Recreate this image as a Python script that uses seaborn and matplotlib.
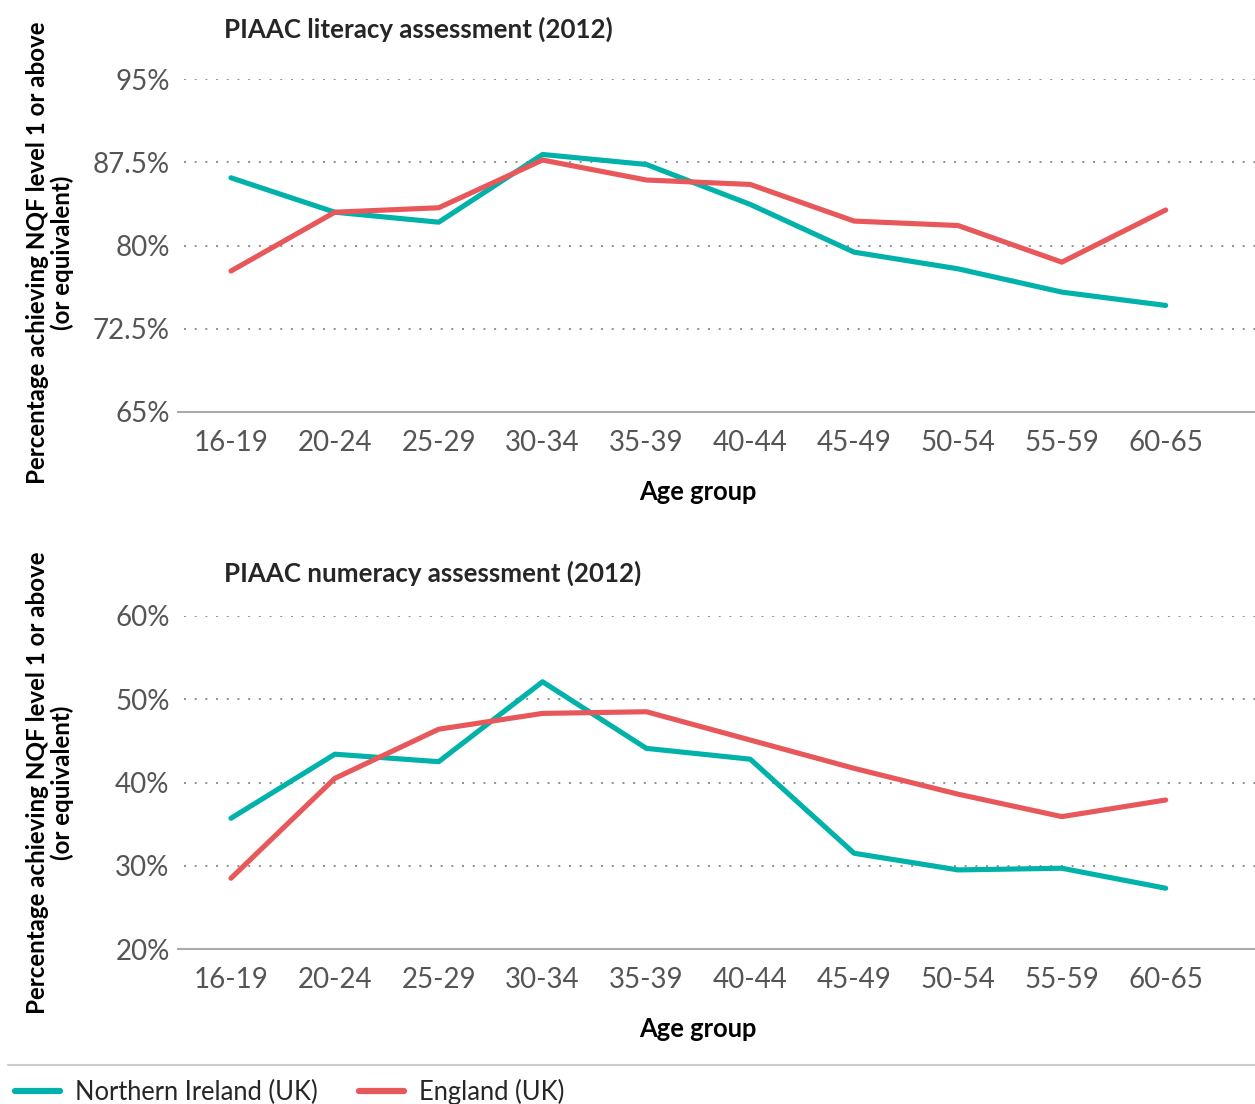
import matplotlib
matplotlib.use("Agg")
import matplotlib.pyplot as plt
from matplotlib.lines import Line2D
import seaborn as sns
import pandas as pd

age_groups = ["16-19", "20-24", "25-29", "30-34", "35-39",
              "40-44", "45-49", "50-54", "55-59", "60-65"]

lit_ni = [86.1, 83.0, 82.1, 88.2, 87.3, 83.7, 79.4, 77.9, 75.8, 74.6]
lit_eng = [77.7, 83.0, 83.4, 87.7, 85.9, 85.5, 82.2, 81.8, 78.5, 83.2]

num_ni = [35.7, 43.4, 42.5, 52.1, 44.1, 42.8, 31.5, 29.5, 29.7, 27.3]
num_eng = [28.5, 40.5, 46.4, 48.3, 48.5, 45.1, 41.7, 38.6, 35.9, 37.9]

lit_ticks = [65, 72.5, 80, 87.5, 95]
lit_labels = ["65%", "72.5%", "80%", "87.5%", "95%"]
num_ticks = [20, 30, 40, 50, 60]
num_labels = ["20%", "30%", "40%", "50%", "60%"]

series = ["Northern Ireland (UK)", "England (UK)"]
palette = {"Northern Ireland (UK)": "#00B2A9", "England (UK)": "#E8585B"}


def long_df(ni, eng):
    return pd.DataFrame({
        "Age group": age_groups * 2,
        "value": ni + eng,
        "series": [series[0]] * len(ni) + [series[1]] * len(eng),
    })


sns.set_style("white")
plt.rcParams["font.family"] = ["Lato", "DejaVu Sans"]

fig = plt.figure(figsize=(12.55, 11.04), dpi=100)
ax1 = fig.add_axes([178 / 1255, 1 - 412 / 1104, 1 - 178 / 1255, 333 / 1104])
ax2 = fig.add_axes([178 / 1255, 1 - 949 / 1104, 1 - 178 / 1255, 333 / 1104])

# axes, data, ticks, labels, title, title y (px above axes top), ylabel centre
panels = [
    (ax1, long_df(lit_ni, lit_eng), lit_ticks, lit_labels,
     "PIAAC literacy assessment (2012)", 50, 0.477),
    (ax2, long_df(num_ni, num_eng), num_ticks, num_labels,
     "PIAAC numeracy assessment (2012)", 43, 0.5),
]

for ax, df, ticks, labels, title, title_off, ylab_y in panels:
    sns.lineplot(data=df, x="Age group", y="value", hue="series",
                 palette=palette, linewidth=3.7, sort=False, ax=ax, legend=False)
    ax.set_xlim(-0.51, 9.86)
    ax.set_ylim(ticks[0], ticks[-1])
    ax.set_yticks(ticks, labels)
    ax.tick_params(axis="both", length=0, labelsize=20, labelcolor="#555555")
    ax.tick_params(axis="y", pad=6)
    ax.tick_params(axis="x", pad=13)
    for t in ticks[1:]:
        ax.axhline(t, color="#8f8f8f", linewidth=1.4, linestyle=(0, (1, 4.5)),
                   xmin=0.006, zorder=0)
    for side in ["top", "right", "left"]:
        ax.spines[side].set_visible(False)
    ax.spines["bottom"].set_color("#aaaaaa")
    ax.spines["bottom"].set_linewidth(1.5)
    ax.set_xlabel("Age group", fontsize=18.4, fontweight="bold", color="black")
    ax.xaxis.set_label_coords(0.483, -0.205)
    ax.set_ylabel("Percentage achieving NQF level 1 or above\n(or equivalent)",
                  fontsize=17.4, fontweight="bold", color="black", linespacing=1.05)
    ax.yaxis.set_label_coords(-0.097, ylab_y)
    ax.text(46 / 1077, 1 + title_off / 333, title, transform=ax.transAxes,
            fontsize=18.6, fontweight="bold", ha="left", va="center")
    ax.grid(False)

fig.add_artist(Line2D([8 / 1255, 1], [1 - 1065 / 1104] * 2,
                      color="#cccccc", linewidth=1.5, transform=fig.transFigure))

handles = [Line2D([], [], color=palette[s], linewidth=4.5) for s in series]
fig.legend(handles, series, loc="lower left", bbox_to_anchor=(0.0, -0.015),
           ncol=2, frameon=False, fontsize=18.4, handlelength=1.75,
           columnspacing=1.6, handletextpad=0.6, borderaxespad=0.2)

fig.savefig("out.png", dpi=100)
